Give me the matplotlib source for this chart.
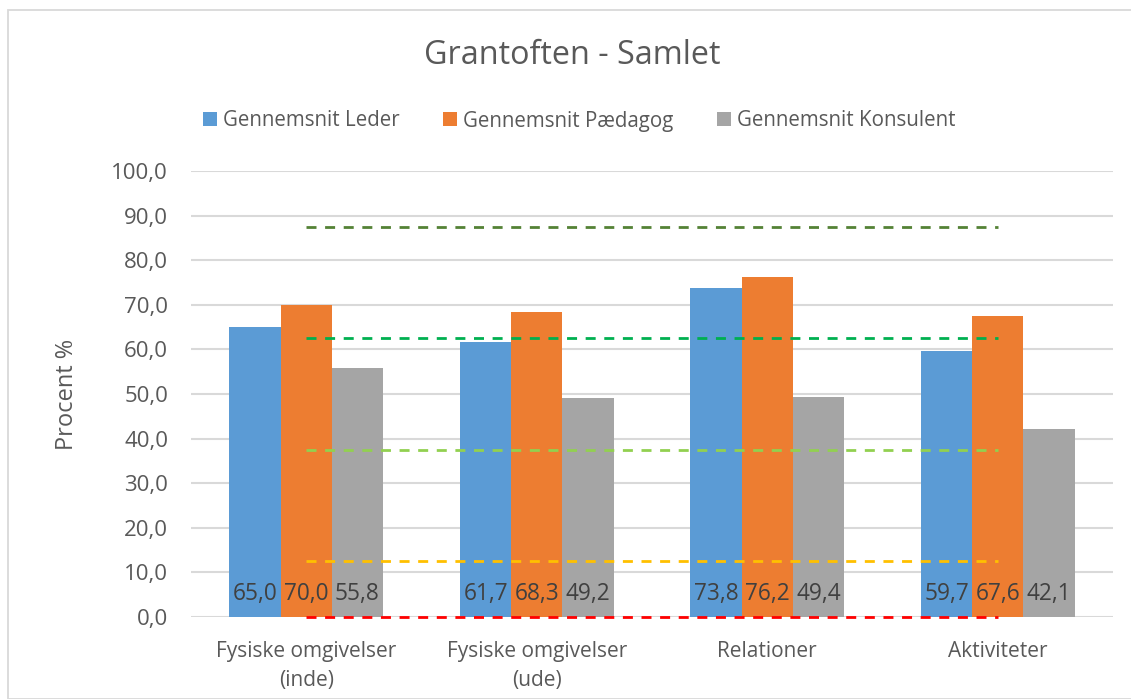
import matplotlib.pyplot as plt
import numpy as np
from matplotlib.patches import Rectangle

plt.rcParams['font.family'] = ['Open Sans', 'DejaVu Sans']

categories = ['Fysiske omgivelser\n(inde)', 'Fysiske omgivelser\n(ude)', 'Relationer', 'Aktiviteter']
series_names = ['Gennemsnit Leder', 'Gennemsnit Pædagog', 'Gennemsnit Konsulent']
leder = [65.0, 61.7, 73.8, 59.7]
paedagog = [70.0, 68.3, 76.2, 67.6]
konsulent = [55.8, 49.2, 49.4, 42.1]
levels = [87.5, 62.5, 37.5, 12.5, 0.0]
level_colors = ['#548235', '#00B050', '#92D050', '#FFC000', '#FF0000']
bar_colors = ['#5B9BD5', '#ED7D31', '#A5A5A5']

fig = plt.figure(figsize=(11.31, 6.99), dpi=100)
ax = fig.add_axes([191 / 1131, 1 - 617 / 699, 922 / 1131, 446 / 699])

# chart border
fig.patches.append(Rectangle((8 / 1131, 0), 1.2, 1 - 10 / 699, transform=fig.transFigure,
                             fill=False, edgecolor='#D9D9D9', lw=1.3))

x = np.arange(len(categories))
w = 0.222
for i, (vals, name, col) in enumerate(zip([leder, paedagog, konsulent], series_names, bar_colors)):
    xs = x + (i - 1) * w
    ax.bar(xs, vals, width=w, color=col, label=name, zorder=2)
    for xi, v in zip(xs, vals):
        ax.text(xi, 5.2, f'{v:.1f}'.replace('.', ','), ha='center', va='center',
                fontsize=16.3, color='#404040', zorder=4)

for lvl, col in zip(levels, level_colors):
    ax.plot(x, [lvl] * len(x), color=col, lw=2, ls=(0, (3.6, 3.1)), zorder=3, clip_on=False)

ax.set_xlim(-0.5, 3.5)
ax.set_ylim(0, 100)
ax.set_yticks(np.arange(0, 101, 10))
ax.set_yticklabels([f'{t:.1f}'.replace('.', ',') for t in np.arange(0, 101, 10)])
ax.set_xticks(x)
ax.set_xticklabels(categories, linespacing=1.5)
ax.tick_params(axis='both', length=0, labelsize=16, labelcolor='#595959')
ax.tick_params(axis='x', labelsize=15, pad=17)
ax.tick_params(axis='y', pad=16.5)
ax.grid(axis='y', color='#D9D9D9', lw=1.5, zorder=0)
ax.set_axisbelow(True)
for s in ax.spines.values():
    s.set_visible(False)

ax.set_ylabel('Procent %', fontsize=17, color='#595959', labelpad=23)
fig.text(0.5 + 7 / 1131, 1 - 56 / 699, 'Grantoften - Samlet', ha='center', va='center',
         fontsize=23.3, color='#595959')
fig.legend(loc='center', bbox_to_anchor=(0.512, 1 - 121 / 699), ncol=3, frameon=False,
           fontsize=14.8, labelcolor='#595959', handlelength=0.68, handleheight=0.68,
           handletextpad=0.3, columnspacing=2.1)

fig.savefig('out.png', dpi=100)
